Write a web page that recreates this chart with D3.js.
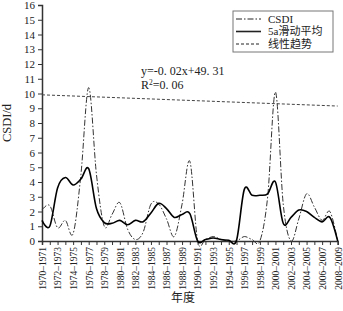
<!DOCTYPE html>
<html>
<head>
<meta charset="utf-8">
<script src="https://cdn.jsdelivr.net/npm/d3@7"></script>
<style>
  body { margin: 0; background: #fff; }
  svg { display: block; }
  text { font-family: "Liberation Serif", "Noto Sans CJK SC", serif; fill: #222; }
</style>
</head>
<body>
<div id="chart"></div>
<script>
// season labels (one per year)
const seasons = [
  "1970–1971", "1971–1972", "1972–1973", "1973–1974", "1974–1975", "1975–1976",
  "1976–1977", "1977–1978", "1978–1979", "1979–1980", "1980–1981", "1981–1982",
  "1982–1983", "1983–1984", "1984–1985", "1985–1986", "1986–1987", "1987–1988",
  "1988–1989", "1989–1990", "1990–1991", "1991–1992", "1992–1993", "1993–1994",
  "1994–1995", "1995–1996", "1996–1997", "1997–1998", "1998–1999", "1999–2000",
  "2000–2001", "2001–2002", "2002–2003", "2003–2004", "2004–2005", "2005–2006",
  "2006–2007", "2007–2008", "2008–2009"
];

// CSDI per season (days)
const csdi = [
  2.1, 2.4, 0.9, 1.4, 0.5, 4.5, 10.4, 4.5, 1.0, 1.8,
  2.6, 0.8, 0.1, 0.6, 2.5, 2.5, 1.5, 0.3, 2.5, 5.4,
  0.0, 0.1, 0.3, 0.1, 0.0, 0.0, 0.3, 0.1, 0.0, 3.0,
  10.1, 2.5, 0.0, 1.5, 3.2, 2.3, 1.4, 2.0, 0.0
];

// 5-year moving average
const movingAvg = [
  1.4, 1.0, 3.6, 4.3, 3.8, 4.2, 4.9, 2.2, 1.25, 1.2,
  1.4, 1.1, 1.4, 1.3, 1.9, 2.55, 2.2, 1.6, 1.8, 1.85,
  0.0, 0.1, 0.2, 0.1, 0.05, 0.05, 3.5, 3.1, 3.1, 3.2,
  4.0, 1.2, 1.6, 2.1, 2.0, 1.6, 1.3, 1.6, 0.0
];

// linear trend, value at first and last season
const trendEnds = [9.91, 9.15];

const yTicks = d3.range(0, 17);
const legendItems = ["CSDI", "5a滑动平均", "线性趋势"];

const width = 343;
const height = 311;
const margin = { top: 5, right: 5.3, bottom: 70, left: 42 };

const svg = d3.select("#chart")
  .append("svg")
  .attr("width", width)
  .attr("height", height);

const x = d3.scalePoint()
  .domain(seasons)
  .range([margin.left, width - margin.right]);

const y = d3.scaleLinear()
  .domain([0, 16])
  .range([height - margin.bottom, margin.top]);

// x axis: tick every season, label every second one
const xAxis = svg.append("g")
  .attr("transform", `translate(0,${height - margin.bottom})`)
  .call(d3.axisBottom(x)
    .tickSize(4)
    .tickFormat((d, i) => i % 2 === 0 ? d : ""));
xAxis.select(".domain").attr("stroke", "#333").attr("stroke-width", 1.5);
xAxis.selectAll(".tick line").attr("stroke", "#333");
xAxis.selectAll(".tick text")
  .attr("font-size", 9.5)
  .attr("transform", "rotate(-90)")
  .attr("text-anchor", "end")
  .attr("dy", "0.35em")
  .attr("y", 0)
  .attr("x", -6);

// y axis
const yAxis = svg.append("g")
  .attr("transform", `translate(${margin.left},0)`)
  .call(d3.axisLeft(y).tickValues(yTicks).tickSize(4).tickPadding(3));
yAxis.select(".domain").attr("stroke", "#333").attr("stroke-width", 1.5);
yAxis.selectAll(".tick line").attr("stroke", "#333");
yAxis.selectAll(".tick text").attr("font-size", 11);

// axis titles
svg.append("text")
  .attr("transform", `translate(11,${(margin.top + height - margin.bottom) / 2}) rotate(-90)`)
  .attr("text-anchor", "middle")
  .attr("font-size", 12.5)
  .text("CSDI/d");

svg.append("text")
  .attr("x", 183)
  .attr("y", 302)
  .attr("text-anchor", "middle")
  .attr("font-size", 12)
  .text("年度");

const smooth = d3.line()
  .x((d, i) => x(seasons[i]))
  .y(d => y(d))
  .curve(d3.curveCardinal.tension(0));

// trend line
svg.append("line")
  .attr("x1", x(seasons[0]))
  .attr("x2", x(seasons[seasons.length - 1]))
  .attr("y1", y(trendEnds[0]))
  .attr("y2", y(trendEnds[1]))
  .attr("stroke", "#444")
  .attr("stroke-width", 1)
  .attr("stroke-dasharray", "3,2");

// CSDI line
svg.append("path")
  .datum(csdi)
  .attr("d", smooth)
  .attr("fill", "none")
  .attr("stroke", "#333")
  .attr("stroke-width", 1)
  .attr("stroke-dasharray", "6,2,1.5,2");

// moving average
svg.append("path")
  .datum(movingAvg)
  .attr("d", smooth)
  .attr("fill", "none")
  .attr("stroke", "#000")
  .attr("stroke-width", 1.6);

// equation
svg.append("text")
  .attr("x", 141)
  .attr("y", 75)
  .attr("font-size", 12)
  .text("y=-0. 02x+49. 31");
const r2 = svg.append("text")
  .attr("x", 141)
  .attr("y", 89)
  .attr("font-size", 12);
r2.append("tspan").text("R");
r2.append("tspan").attr("font-size", 7.5).attr("dy", -4.5).text("2");
r2.append("tspan").attr("dy", 4.5).text("=0. 06");

// legend
const legend = svg.append("g").attr("transform", "translate(233,11)");
legend.append("rect")
  .attr("width", 100)
  .attr("height", 41)
  .attr("fill", "#fff")
  .attr("stroke", "#777")
  .attr("stroke-width", 1);

const dashes = ["6,2,1.5,2", null, "3,2"];
const widths = [1, 1.6, 1];
legendItems.forEach((name, i) => {
  const ly = 8 + i * 12.5;
  legend.append("line")
    .attr("x1", 3).attr("x2", 28)
    .attr("y1", ly).attr("y2", ly)
    .attr("stroke", "#222")
    .attr("stroke-width", widths[i])
    .attr("stroke-dasharray", dashes[i]);
  legend.append("text")
    .attr("x", 35)
    .attr("y", ly)
    .attr("dy", "0.35em")
    .attr("font-size", 11)
    .text(name);
});
</script>
</body>
</html>
